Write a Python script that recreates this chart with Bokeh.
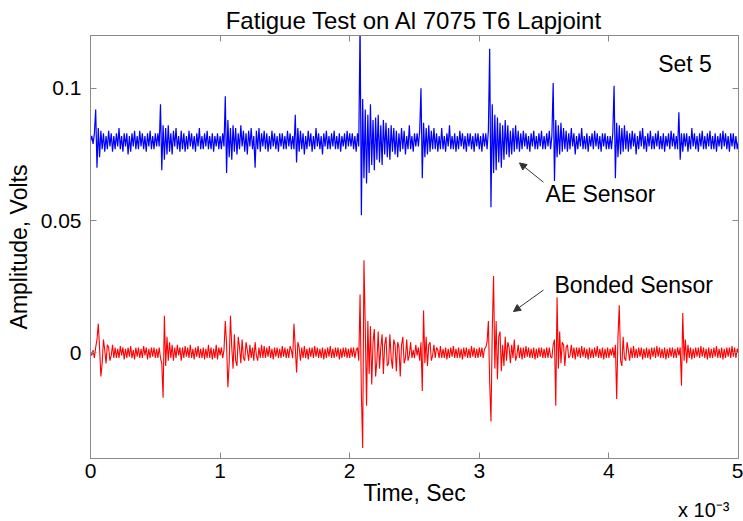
from bokeh.plotting import figure
from bokeh.models import LinearAxis, Label, Arrow, NormalHead, FixedTicker, Range1d, Title
from bokeh.embed import file_html
from bokeh.resources import INLINE

# ---------------- data ----------------
SAMPLE_STEP_MS = 0.01  # sampling step, in units of 1e-3 s (axis shows "x 10^-3")

# AE sensor: offset 0.080 V, deviations in mV
ae_offset_V = 0.080
ae_dev_mV = [
    0, 2, -1, 3, 12, -10, 5, -6, 4, -3,
    3, -4, 2, -3, 4, -2, 3, -4, 2, -3,
    3, -2, 5, -3, 2, -4, 3, -2, 3, -5,
    2, -4, 3, -2, 4, -3, 2, -3, 4, -2,
    3, -3, 2, -4, 3, -2, 4, -3, 2, -3,
    3, -2, 3, -2, 14, -11, 6, -7, 5, -5,
    6, -4, 3, -5, 4, -2, 5, -3, 2, -4,
    4, -3, 3, -4, 2, -3, 4, -2, 3, -3,
    2, -4, 3, -2, 5, -3, 2, -3, 3, -2,
    4, -3, 2, -3, 3, -4, 2, -2, 3, -3,
    2, -3, 3, -2, 17, -12, 8, -6, 5, -7,
    6, -4, 5, -5, 3, -3, 6, -2, 4, -4,
    3, -5, 4, -2, 5, -3, 2, -10, 4, -3,
    5, -4, 3, -2, 4, -3, 3, -4, 2, -3,
    4, -2, 3, -3, 2, -4, 3, -2, 3, -3,
    2, -3, 4, -2, 3, -3, 2, -3, 10, -8,
    5, -4, 4, -3, 3, -5, 2, -3, 4, -2,
    3, -4, 2, -3, 5, -2, 3, -3, 2, -5,
    3, -2, 4, -3, 2, -3, 3, -2, 4, -3,
    2, -3, 3, -4, 2, -2, 3, -3, 4, -2,
    3, -2, 3, -3, 2, -4, 3, -2, 45, -28,
    16, -14, 12, -16, 10, -12, 14, -9, 8, -11,
    9, -7, 10, -8, 6, -9, 8, -5, 7, -6,
    5, -7, 6, -4, 5, -5, 4, -6, 3, -4,
    5, -3, 4, -5, 2, -3, 6, -3, 2, -4,
    3, -2, 3, -2, 4, 20, -14, 7, -6, 5,
    -5, 6, -4, 4, -3, 5, -3, 3, -4, 2,
    -3, 5, -3, 2, -4, 3, -2, 6, -3, 2,
    -3, 3, -4, 2, -3, 4, -2, 3, -3, 2,
    -4, 3, -2, 3, -3, 2, -4, 3, -2, 3,
    -3, 2, -4, 3, -2, 3, -3, 4, 35, -25,
    14, -12, 10, -11, 9, -8, 7, -10, 6, -7,
    8, -5, 6, -6, 4, -5, 5, -4, 6, -3,
    4, -4, 3, -3, 4, -2, 3, -3, 2, -4,
    3, -2, 4, -3, 2, -3, 3, -2, 4, -3,
    2, -3, 3, -2, 4, -3, 2, 22, -15, 8,
    -6, 6, -5, 7, -4, 5, -3, 4, -4, 3,
    -3, 5, -2, 3, -5, 2, -3, 3, -2, 5,
    -3, 2, -3, 3, -4, 2, -2, 3, -3, 4,
    -2, 3, -3, 2, -4, 3, -2, 3, -3, 2,
    -3, 2, -3, 3, 21, -14, 7, -6, 6, -5,
    5, -4, 6, -3, 4, -4, 3, -3, 4, -2,
    3, -5, 2, -3, 4, -2, 5, -3, 2, -4,
    3, -2, 4, -3, 2, -3, 3, -2, 4, -3,
    2, -3, 3, -4, 2, -2, 3, -3, 4, -2,
    3, -3, 2, -3, 11, -7, 3, -4, 3, -2,
    3, -4, 2, -3, 5, -2, 3, -3, 2, -4,
    3, -2, 4, -3, 2, -3, 3, -2, 4, -3,
    2, -3, 3, -4, 2, -2, 3, -3, 4, -2,
    3, -3, 2, -4, 3, -2, 3, -3, 2, -3,
    0,
]

# Bonded sensor: offset 0 V, deviations in mV
bonded_dev_mV = [
    0, -1, 1, -2, 2, 5, 11, 2, -9, -4,
    5, 1, -4, 3, 2, -3, -1, 3, -2, 2,
    -2, 1.5, -2, 2.5, -1, 2, -2.5, 1.5, -2, 2,
    -1.5, 2.5, -2, 1, -2.5, 2, -1.5, 2, -2, 1.5,
    -2, 2.5, -1, 2, -2.5, 1.5, -2, 2, -1.5, 2,
    -2, 1.5, -2, 2, -2, -4, -17, 14, -5, 6,
    -3, 4, -2, 3, -3, 2, -2, 3, -1, 2,
    -3, 2, -2, 2.5, -1.5, 2, -2, 3, -2, 1.5,
    -2.5, 2, -1.5, 2.5, -2, 1.5, -2, 2, -2.5, 1.5,
    -2, 3, -2, 2, -2.5, 1.5, -2, 3, -2.5, 2,
    -1, 2, -2, 1, 12, 3, -13, -4, 14, 2,
    -6, 7, -3, -5, 6, 2, -4, 5, -2, -3,
    4, 1, -3, 3, -2, 2, -3, 4, -1, -3,
    2, -2, 3, -2, 2.5, -2, 2, -1.5, 2.5, -2,
    1.5, -2.5, 2, -1.5, 2, -2, 1.5, -2, 2.5, -1.5,
    2, -2, 1.5, -2, 2.5, 1, -2, 11, 2, -7.5,
    4, 2, -3, 2, -2, 2.5, -2, 1.5, -2.5, 2,
    -1.5, 2, -2, 2.5, -1.5, 2, -2, 1.5, -2, 2,
    -2.5, 1.5, -2, 2, -1.5, 2.5, -2, 1.5, -2, 2,
    -1.5, 2, -2.5, 1.5, -2, 2, -1.5, 2, -2, 1.5,
    -2, 2, -1.5, 2, -2, 1, 2, -3, 22, -15,
    -36, 35, 10, -20, 12, -8, 10, -12, 4, 9,
    -9, -3, 8, -6, 2, 7, -8, 3, 6, -5,
    -4, 7, -2, -6, 5, 3, -7, 4, 2, -9,
    3, 6, -4, -2, 5, -3, -1, 4, -2, 1,
    -2, 3, -1, 2, -3, 4, -14.5, 16, -4, 6,
    -5, 3, 4, -3, -1, 3, -2, 2, 1, -2,
    2.5, -2, 1.5, -2, 2, -2.5, 1.5, -2, 2, -1.5,
    2.5, -2, 1.5, -2, 2, -2, 1.5, -2.5, 2, -1.5,
    2, -2, 1.5, -2, 2.5, -1.5, 2, -2, 1.5, -2,
    2, -1.5, 2, -2, 1.5, 2, 4, 12, -11, -26,
    8, 29, -6, 12, -10, 6, 8, -7, 3, -5,
    6, -3, 4, 2, -4, 3, -2, 5, -3, -1,
    3, -2, 2, -2.5, 2, -2, 2.5, -1.5, 2, -2,
    1.5, -2, 2, -2.5, 1.5, -2, 2, -1.5, 2, -2,
    1.5, -2, 2, -2, 2, -1.5, -2, 3, 5, -20,
    21, -6, 8, -4, 4, 3, -5, 2, 3, -2,
    -1, 3, -2, 2, -2.5, 2, -1.5, 2, -2, 2.5,
    -1.5, 2, -2, 1.5, -2.5, 2, -2, 1.5, -2, 2,
    -1.5, 2.5, -2, 1.5, -2, 2, -2.5, 1.5, -2, 2,
    -2, 1.5, -1, 2, -2, 3, -17.5, 6, 18, -3,
    -5, 6, -2, -3, 4, 1, -3, 2, -2, 2.5,
    -2, 1.5, -2, 2, -1.5, 2, -2.5, 1.5, -2, 2,
    -2, 1.5, -2.5, 2, -1.5, 2, -2, 2.5, -1.5, 2,
    -2, 1.5, -2, 2, -2.5, 1.5, -2, 2, -1.5, 2,
    -2, 1.5, -2, 2, -1, 2, -12.5, 15, -3, 5,
    -4, 3, -2, 2, -2.5, 1.5, -2, 2, -1.5, 2,
    -2, 2.5, -1.5, 2, -2, 1.5, -2.5, 2, -2, 1.5,
    -2, 2, -1.5, 2.5, -2, 1.5, -2, 2, -2.5, 1.5,
    -2, 2, -1.5, 2, -2, 2.5, -1.5, 2, -2, 1.5,
    0,
]

x_ticks = [0, 1, 2, 3, 4, 5]
y_ticks = [0, 0.05, 0.1]
y_tick_labels = {0: "0", 0.05: "0.05", 0.1: "0.1"}

ae_time = [round(i * SAMPLE_STEP_MS, 2) for i in range(len(ae_dev_mV))]
bonded_time = [round(i * SAMPLE_STEP_MS, 2) for i in range(len(bonded_dev_mV))]
ae_V = [ae_offset_V + v / 1000.0 for v in ae_dev_mV]
bonded_V = [v / 1000.0 for v in bonded_dev_mV]

# ---------------- figure ----------------
FONT = "Liberation Sans"
GRAY = "#8a8a8a"

p = figure(width=743, height=521, x_range=Range1d(0, 5), y_range=Range1d(-0.04, 0.12),
           output_backend="svg", toolbar_location=None,
           min_border_left=90, min_border_right=5, min_border_top=35, min_border_bottom=63)
p.background_fill_color = "white"
p.border_fill_color = "white"
p.outline_line_color = GRAY
p.xgrid.visible = False
p.ygrid.visible = False

p.title.text = "Fatigue Test on Al 7075 T6 Lapjoint"
p.title.align = "center"
p.title.text_font = FONT
p.title.text_font_size = "24px"
p.title.text_font_style = "normal"
p.title.text_color = "black"
p.title.standoff = 3

p.line(ae_time, ae_V, line_color="#0000ff", line_width=1.2)
p.line(bonded_time, bonded_V, line_color="#ff0000", line_width=1.1)


def style_axis(ax, show_labels=True):
    ax.axis_line_color = GRAY
    ax.major_tick_line_color = GRAY
    ax.major_tick_in = 6
    ax.major_tick_out = 0
    ax.minor_tick_line_color = None
    ax.major_label_text_font = FONT
    ax.major_label_text_color = "black"
    ax.axis_label_text_font = FONT
    ax.axis_label_text_font_style = "normal"
    ax.axis_label_text_color = "black"
    if show_labels:
        ax.major_label_text_font_size = "21px"
        ax.axis_label_text_font_size = "23px"
    else:
        ax.major_label_text_font_size = "0px"
        ax.major_label_text_color = None
        ax.major_label_standoff = 0


xa = p.xaxis[0]
xa.ticker = FixedTicker(ticks=x_ticks)
xa.axis_label = "Time, Sec"
style_axis(xa)
xa.major_label_standoff = 5
xa.axis_label_standoff = -1

ya = p.yaxis[0]
ya.ticker = FixedTicker(ticks=y_ticks)
ya.major_label_overrides = y_tick_labels
ya.axis_label = "Amplitude, Volts"
style_axis(ya)
ya.major_label_standoff = 9
ya.axis_label_standoff = 6

top_ax = LinearAxis(ticker=FixedTicker(ticks=x_ticks))
style_axis(top_ax, show_labels=False)
p.add_layout(top_ax, "above")
right_ax = LinearAxis(ticker=FixedTicker(ticks=y_ticks))
style_axis(right_ax, show_labels=False)
p.add_layout(right_ax, "right")

# exponent of the time axis
p.add_layout(Title(text="x 10\u207b\u00b3", align="right", offset=9, standoff=-20,
                   vertical_align="top",
                   text_font=FONT, text_font_size="20px", text_font_style="normal",
                   text_color="black"), "below")

# annotations
for x, y, txt in [(4.38, 0.1092, "Set 5"), (3.51, 0.0599, "AE Sensor"),
                  (3.58, 0.0256, "Bonded Sensor")]:
    p.add_layout(Label(x=x, y=y, text=txt, text_font=FONT, text_font_size="23px",
                       text_color="black", text_baseline="middle", text_align="left"))
p.add_layout(Arrow(end=NormalHead(size=7, fill_color="#333333", line_color="#333333"),
                   x_start=3.495, y_start=0.0645, x_end=3.31, y_end=0.0718,
                   line_color="#333333", line_width=1))
p.add_layout(Arrow(end=NormalHead(size=7, fill_color="#333333", line_color="#333333"),
                   x_start=3.495, y_start=0.0237, x_end=3.264, y_end=0.0156,
                   line_color="#333333", line_width=1))

open("out.html", "w").write(file_html(p, INLINE))
